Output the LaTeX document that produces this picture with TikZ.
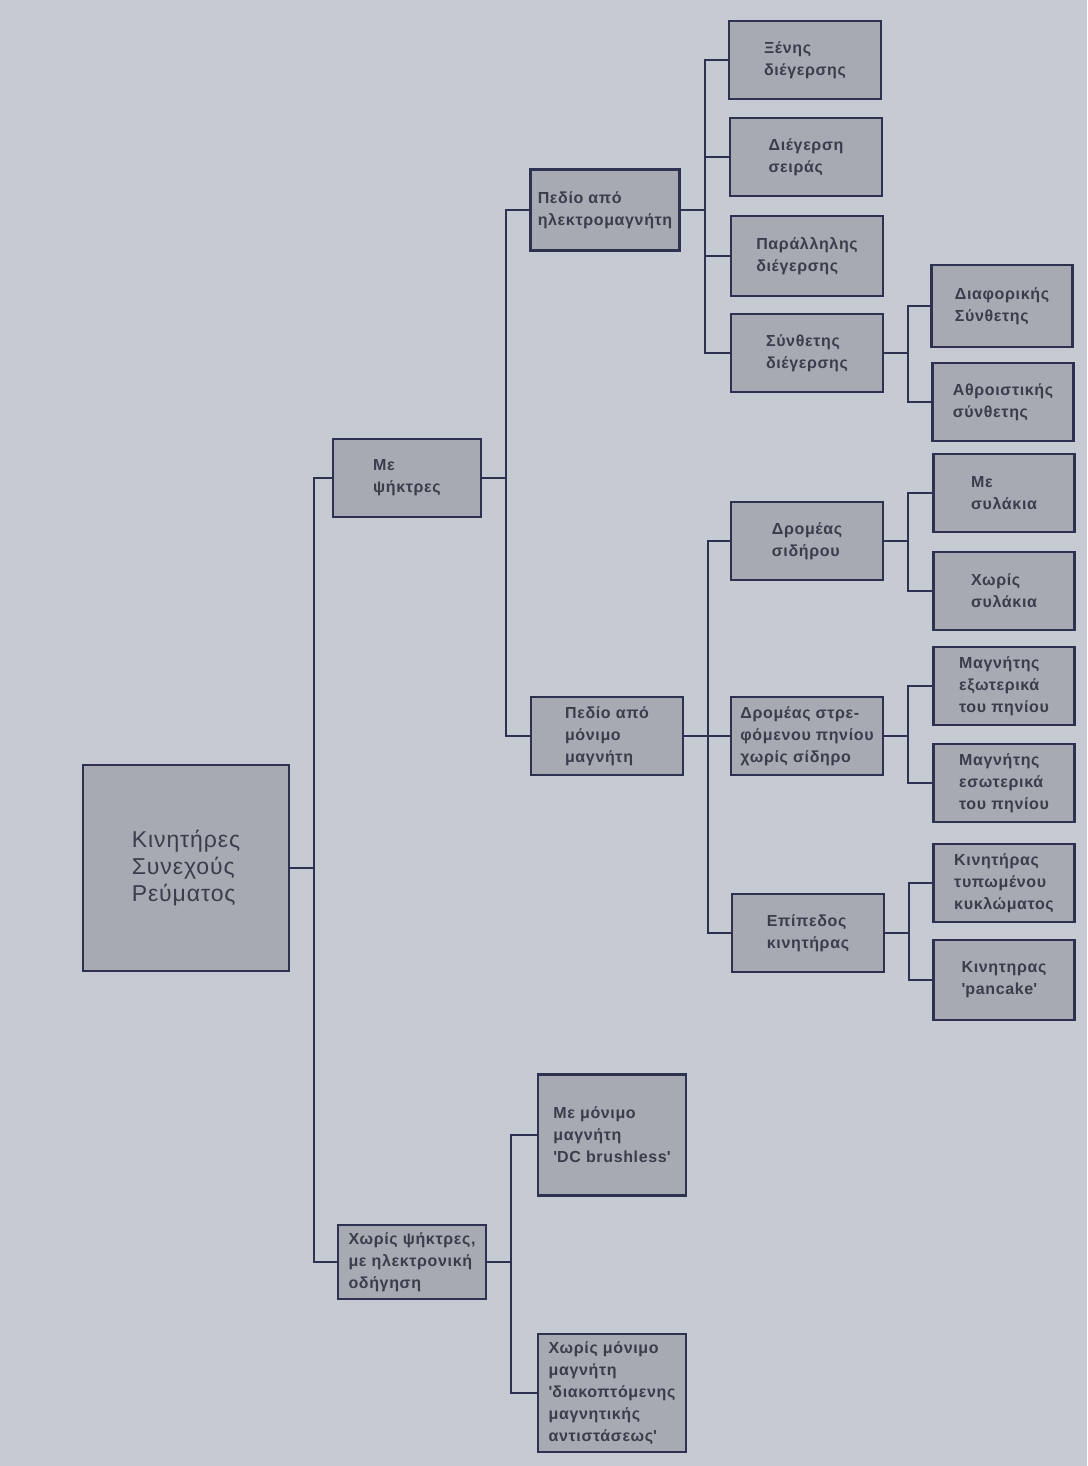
\documentclass[tikz,border=0pt]{standalone}
\usepackage{fontspec}
\setmainfont{Liberation Sans}
\newfontfamily\boxfont{Liberation Sans}[LetterSpace=4]
\definecolor{pagec}{HTML}{C6CAD3}
\definecolor{boxc}{HTML}{A7AAB2}
\definecolor{linec}{HTML}{2F3150}
\definecolor{textc}{HTML}{3A3D4C}
\tikzset{
  box/.style={draw=linec, line width=2.2pt, fill=boxc, text=textc, align=left,
    inner sep=0pt, minimum width=152pt, minimum height=78pt,
    font=\boxfont\bfseries\fontsize{16}{22}\selectfont},
  leaf/.style={box, minimum width=141pt},
  link/.style={draw=linec, line width=2pt}
}
\begin{document}
\begin{tikzpicture}[x=1pt, y=-1pt]
% Page
\fill[pagec] (0,0) rectangle (1087,1466);
\useasboundingbox (0,0) rectangle (1087,1466);

% Root
\node[box, minimum width=206pt, minimum height=206pt,
  font=\boxfont\fontsize{23}{27}\selectfont]
  (root) at (186,868) {Κινητήρες\\Συνεχούς\\Ρεύματος};

% First level
\node[box, minimum width=148pt] (brush) at (407,478) {Με\\ψήκτρες};
\node[box, minimum width=148pt, minimum height=74pt] (nobrush) at (412,1262)
  {Χωρίς ψήκτρες,\\με ηλεκτρονική\\οδήγηση};

% Brushed motors
\node[box, minimum width=149pt, minimum height=81pt] (em) at (605,210) {Πεδίο από\\ηλεκτρομαγνήτη};
\node[box] (pm) at (607,736) {Πεδίο από\\μόνιμο\\μαγνήτη};

% Electromagnet field
\node[box] (sep) at (805,60) {Ξένης\\διέγερσης};
\node[box] (ser) at (806,157) {Διέγερση\\σειράς};
\node[box, minimum height=80pt] (par) at (807,256) {Παράλληλης\\διέγερσης};
\node[box] (comp) at (807,353) {Σύνθετης\\διέγερσης};
\node[leaf, minimum height=82pt] (diff) at (1002,306) {Διαφορικής\\Σύνθετης};
\node[leaf] (cum) at (1003,402) {Αθροιστικής\\σύνθετης};

% Permanent magnet field
\node[box] (iron) at (807,541) {Δρομέας\\σιδήρου};
\node[box] (coil) at (807,736) {Δρομέας στρε-\\φόμενου πηνίου\\χωρίς σίδηρο};
\node[box] (flat) at (808,933) {Επίπεδος\\κινητήρας};
\node[leaf] (slot) at (1004,493) {Με\\συλάκια};
\node[leaf] (noslot) at (1004,591) {Χωρίς\\συλάκια};
\node[leaf] (mout) at (1004,686) {Μαγνήτης\\εξωτερικά\\του πηνίου};
\node[leaf] (min) at (1004,783) {Μαγνήτης\\εσωτερικά\\του πηνίου};
\node[leaf] (pcb) at (1004,883) {Κινητήρας\\τυπωμένου\\κυκλώματος};
\node[leaf, minimum height=80pt] (pan) at (1004,980) {Κινητηρας\\\textquotesingle pancake\textquotesingle};

% Brushless motors
\node[box, minimum width=148pt, minimum height=121pt] (bldc) at (612,1135)
  {Με μόνιμο\\μαγνήτη\\\textquotesingle DC brushless\textquotesingle};
\node[box, minimum width=148pt, minimum height=118pt] (srm) at (612,1393)
  {Χωρίς μόνιμο\\μαγνήτη\\\textquotesingle διακοπτόμενης\\μαγνητικής\\αντιστάσεως\textquotesingle};

% Connectors
\foreach \p/\c in {root/brush, root/nobrush, brush/em, brush/pm,
    em/sep, em/ser, em/par, em/comp, comp/diff, comp/cum,
    pm/iron, pm/coil, pm/flat, iron/slot, iron/noslot,
    coil/mout, coil/min, flat/pcb, flat/pan, nobrush/bldc, nobrush/srm}
  \draw[link] (\p.east) -- ++(24,0) |- (\c.west);
\end{tikzpicture}
\end{document}
